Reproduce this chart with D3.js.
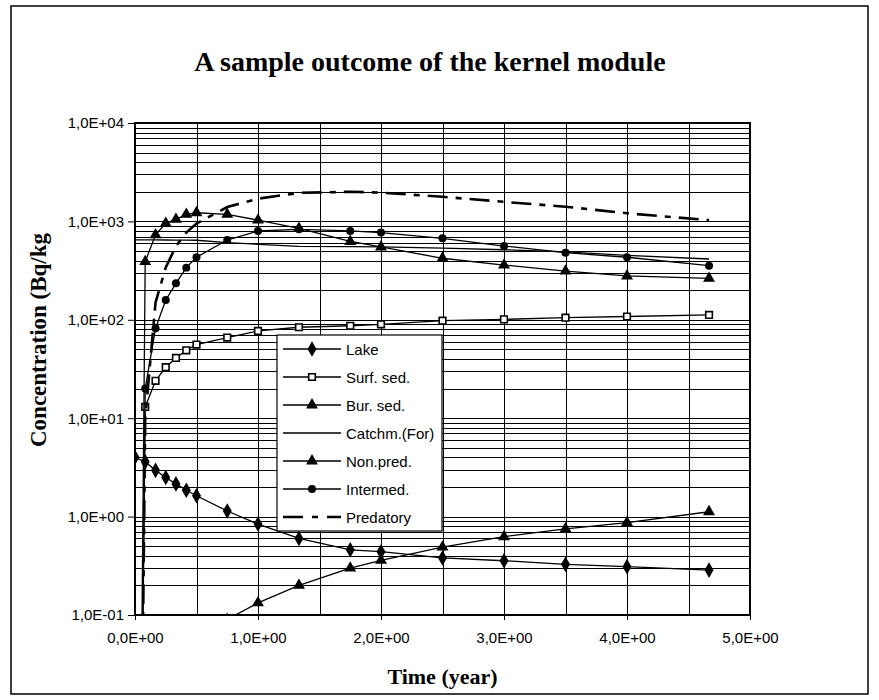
<!DOCTYPE html>
<html>
<head>
<meta charset="utf-8">
<script src="https://cdn.jsdelivr.net/npm/d3@7"></script>
<style>
  body { margin: 0; background: #fff; }
  svg { display: block; }
</style>
</head>
<body>
<div id="chart"></div>
<script>
// time points (year) and concentrations (Bq/kg)
const times = [0, 0.083, 0.167, 0.25, 0.333, 0.417, 0.5, 0.75, 1.0, 1.333, 1.75, 2.0, 2.5, 3.0, 3.5, 4.0, 4.667];

const lake      = [4.0, 3.6, 2.95, 2.5, 2.15, 1.85, 1.63, 1.14, 0.84, 0.60, 0.46, 0.44, 0.38, 0.356, 0.327, 0.31, 0.286];
const surfSed   = [0, 13, 24, 33, 41, 49, 56, 66, 77, 84, 87, 90, 98, 101, 105, 108, 112];
const burSed    = [0, 0.004, 0.01, 0.017, 0.025, 0.035, 0.045, 0.09, 0.133, 0.20, 0.30, 0.36, 0.49, 0.625, 0.75, 0.87, 1.12];
const catchm    = [650, 649, 648, 647, 646, 645, 643, 610, 585, 558, 553, 550, 535, 515, 490, 452, 415];
const nonPred   = [0, 390, 730, 955, 1050, 1180, 1225, 1180, 1030, 850, 625, 550, 422, 360, 313, 279, 264];
const intermed  = [0, 20, 82, 159, 235, 339, 432, 647, 799, 830, 800, 770, 673, 562, 481, 432, 355];
const predatory = [0, 10, 150, 340, 560, 770, 950, 1400, 1700, 1950, 2000, 1960, 1780, 1580, 1410, 1210, 1030];

const seriesNames = ["Lake", "Surf. sed.", "Bur. sed.", "Catchm.(For)", "Non.pred.", "Intermed.", "Predatory"];
const yTicks = [0.1, 1, 10, 100, 1000, 10000];
const xTicks = [0, 1, 2, 3, 4, 5];

const W = 879, H = 700;
const margin = { left: 135, right: 129, top: 123, bottom: 85 };

const svg = d3.select("#chart").append("svg").attr("width", W).attr("height", H);

// chart area border
svg.append("rect").attr("x", 11).attr("y", 6).attr("width", 857).attr("height", 688)
    .attr("fill", "#fff").attr("stroke", "#000").attr("stroke-width", 1.5);

const x = d3.scaleLinear().domain([0, 5]).range([margin.left, W - margin.right]);
const y = d3.scaleLog().domain([0.1, 10000]).range([H - margin.bottom, margin.top]);

svg.append("defs").append("clipPath").attr("id", "plotclip")
    .append("rect").attr("x", x(0)).attr("y", y(10000))
    .attr("width", x(5) - x(0)).attr("height", y(0.1) - y(10000));

// gridlines
const grid = svg.append("g").attr("stroke", "#000").attr("stroke-width", 1);
let hLines = [];
for (let e = -1; e < 4; e++)
    for (let k = 1; k < 10; k++) hLines.push(k * Math.pow(10, e));
grid.selectAll("line.h").data(hLines).join("line").attr("class", "h")
    .attr("x1", x(0)).attr("x2", x(5))
    .attr("y1", d => Math.round(y(d)) + 0.5).attr("y2", d => Math.round(y(d)) + 0.5);
grid.selectAll("line.v").data(d3.range(0.5, 5, 0.5)).join("line").attr("class", "v")
    .attr("y1", y(10000)).attr("y2", y(0.1))
    .attr("x1", d => Math.round(x(d)) + 0.5).attr("x2", d => Math.round(x(d)) + 0.5);

// axes
const fmtE = d => {
    let s = d3.format(".1e")(d).replace(".", ",");
    return s.replace(/e([+-])(\d)$/, "E$10$2").replace(/e([+-])(\d\d)$/, "E$1$2");
};
const yAxis = svg.append("g").attr("transform", `translate(${x(0)},0)`)
    .call(d3.axisLeft(y).tickValues(yTicks).tickFormat(fmtE).tickSize(7).tickPadding(4));
const xAxis = svg.append("g").attr("transform", `translate(0,${y(0.1)})`)
    .call(d3.axisBottom(x).tickValues(xTicks).tickFormat(fmtE).tickSize(5).tickPadding(12));
[yAxis, xAxis].forEach(a => {
    a.select(".domain").remove();
    a.selectAll("text").attr("font-family", "Liberation Sans, Arial, sans-serif")
        .attr("font-size", 15).attr("fill", "#000");
    a.selectAll("line").attr("stroke", "#000");
});

// plot area frame
svg.append("rect").attr("x", x(0)).attr("y", y(10000))
    .attr("width", x(5) - x(0)).attr("height", y(0.1) - y(10000))
    .attr("fill", "none").attr("stroke", "#000").attr("stroke-width", 2);

// series
const allSeries = [lake, surfSed, burSed, catchm, nonPred, intermed, predatory];
const markers = ["diamond", "square", "triangle", null, "triangle", "circle", null];

function markerPath(type) {
    if (type === "diamond") return d3.symbol(d3.symbolDiamond, 70)();
    if (type === "square") return d3.symbol(d3.symbolSquare, 44)();
    if (type === "triangle") return d3.symbol(d3.symbolTriangle, 62)();
    if (type === "circle") return d3.symbol(d3.symbolCircle, 50)();
    return null;
}
function styleMarker(sel, type) {
    if (type === "square") sel.attr("fill", "#fff").attr("stroke", "#000").attr("stroke-width", 1.6);
    else sel.attr("fill", "#000").attr("stroke", "none");
}

const line = d3.line()
    .x((d, i) => x(times[i]))
    .y(d => y(Math.max(d, 1e-9)));

const plot = svg.append("g").attr("clip-path", "url(#plotclip)");
allSeries.forEach((vals, si) => {
    const isPred = si === 6;
    plot.append("path").datum(vals)
        .attr("fill", "none").attr("stroke", "#000")
        .attr("stroke-width", isPred ? 2.6 : 1.3)
        .attr("stroke-dasharray", isPred ? "20,8,6,8" : null)
        .attr("d", line);
    const m = markers[si];
    if (m) {
        const pts = vals.map((v, i) => [times[i], v]).filter(d => d[1] > 0);
        plot.selectAll(null).data(pts).join("path")
            .attr("d", markerPath(m))
            .attr("transform", d => `translate(${x(d[0])},${y(d[1])})`)
            .call(styleMarker, m);
    }
});

// legend
const lg = svg.append("g").attr("transform", "translate(277,335)");
lg.append("rect").attr("width", 165).attr("height", 196)
    .attr("fill", "#fff").attr("stroke", "#000").attr("stroke-width", 1.2);
seriesNames.forEach((name, i) => {
    const yy = 14 + i * 28;
    const isPred = i === 6;
    lg.append("line").attr("x1", 6).attr("x2", 64).attr("y1", yy).attr("y2", yy)
        .attr("stroke", "#000").attr("stroke-width", isPred ? 2.6 : 1.3)
        .attr("stroke-dasharray", isPred ? "20,9,6,9" : null);
    if (markers[i]) {
        lg.append("path").attr("d", markerPath(markers[i]))
            .attr("transform", `translate(35,${yy})`).call(styleMarker, markers[i]);
    }
    lg.append("text").attr("x", 69).attr("y", yy + 5.5).text(name)
        .attr("font-family", "Liberation Sans, Arial, sans-serif").attr("font-size", 15);
});

// titles
svg.append("text").attr("x", 430).attr("y", 71).attr("text-anchor", "middle")
    .attr("font-family", "Liberation Serif, Times New Roman, serif").attr("font-weight", "bold")
    .attr("font-size", 28).text("A sample outcome of the kernel module");
svg.append("text").attr("x", x(2.5)).attr("y", 684).attr("text-anchor", "middle")
    .attr("font-family", "Liberation Serif, Times New Roman, serif").attr("font-weight", "bold")
    .attr("font-size", 22).text("Time (year)");
svg.append("text").attr("transform", "translate(46,447) rotate(-90)")
    .attr("font-family", "Liberation Serif, Times New Roman, serif").attr("font-weight", "bold")
    .attr("font-size", 23).text("Concentration (Bq/kg");
</script>
</body>
</html>
